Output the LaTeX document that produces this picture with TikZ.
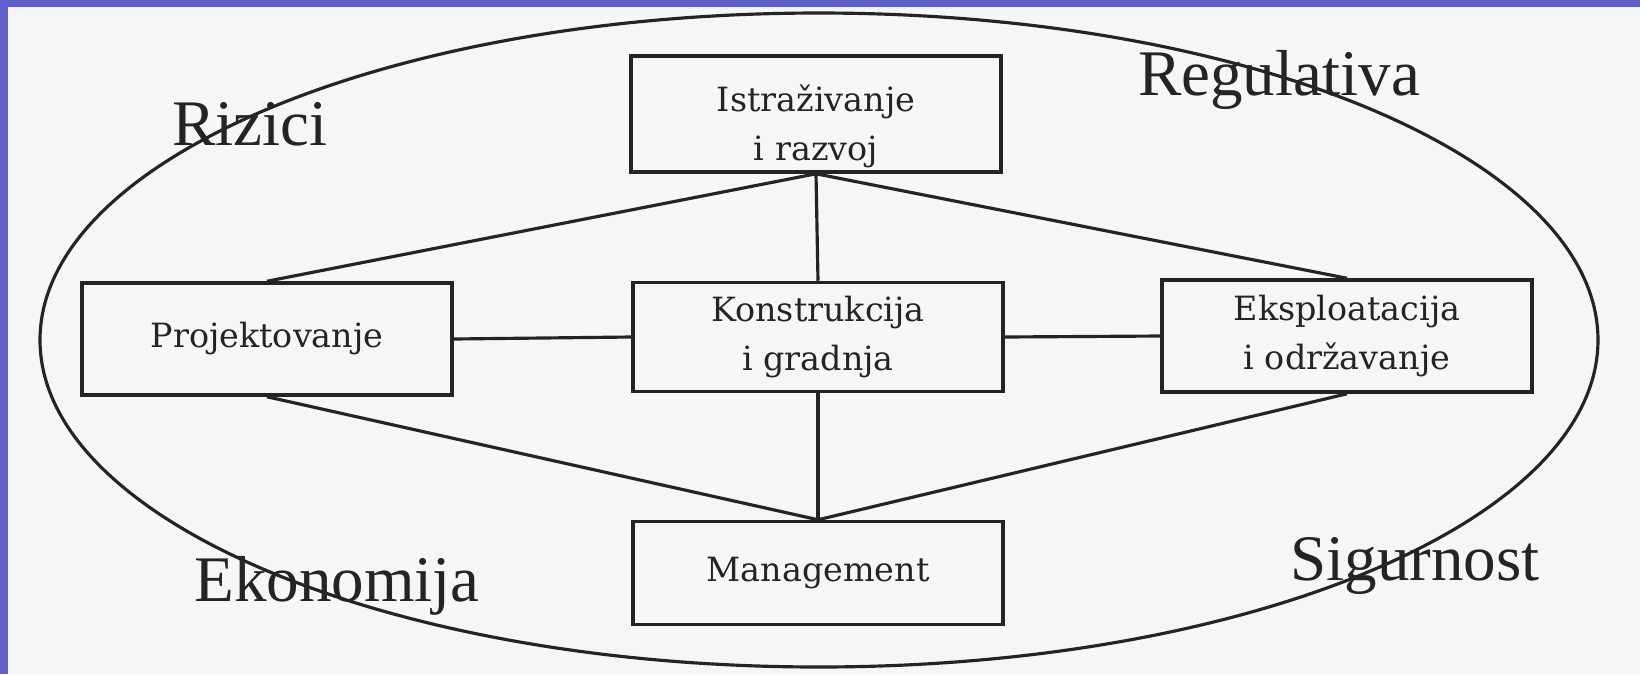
\documentclass[tikz,border=0pt]{standalone}
\usepackage{fontspec}
\usepackage{tikz}
\setmainfont{Liberation Serif}
\newfontfamily\stagefont{DejaVu Serif}
\definecolor{slideblue}{RGB}{96,96,200}
\definecolor{scanpaper}{RGB}{246,246,246}
\definecolor{scanink}{RGB}{36,36,36}
\newcommand{\sunk}[1]{\raisebox{-1.2mm}[\height][\depth]{#1}}
\tikzset{stage/.style = {draw=scanink, line width=1pt, text=scanink,
                         minimum width=37mm, minimum height=11.2mm,
                         inner sep=0pt, align=center,
                         font=\stagefont\fontsize{9.5}{14}\selectfont},
         field/.style = {inner sep=0pt, anchor=base, text=scanink,
                         font=\fontsize{18.5}{20}\selectfont},
         link/.style = {draw=scanink, line width=0.9pt}}

\begin{document}
\begin{tikzpicture}[x=0.1mm, y=-0.1mm]
      \fill [scanpaper] (0, 0) rectangle (1640, 674);
      \fill [slideblue] (0, 0) rectangle (1640, 7);
      \fill [slideblue] (0, 0) rectangle (8, 674);
      \useasboundingbox (0, 0) rectangle (1640, 674);

      \draw [link] (819, 340) ellipse [x radius=77.9mm, y radius=32.7mm];

      \node [stage, minimum height=11.6mm] (istr) at (816, 114) {\sunk{Istraživanje}\\\sunk{i razvoj}};
      \node [stage] (proj) at (267, 339) {Projektovanje};
      \node [stage, minimum height=10.9mm] (konst) at (818, 337) {Konstrukcija\\i gradnja};
      \node [stage] (eksp) at (1347, 336) {Eksploatacija\\i održavanje};
      \node [stage, minimum height=10.3mm] (mgmt) at (818, 573) {Management};

      \foreach \a/\b in {istr.south/proj.north, istr.south/konst.north,
                         istr.south/eksp.north, proj.east/konst.west,
                         konst.east/eksp.west, proj.south/mgmt.north,
                         konst.south/mgmt.north, eksp.south/mgmt.north} {
        \draw [link] (\a) -- (\b);
      }

      \node [field] (rizici) at (250, 145) {Rizici};
      \node [field] (regul) at (1279, 95) {Regulativa};
      \node [field] (ekon) at (337, 601) {Ekonomija};
      \node [field] (sigur) at (1415, 580) {Sigurnost};
    \end{tikzpicture}
\end{document}
